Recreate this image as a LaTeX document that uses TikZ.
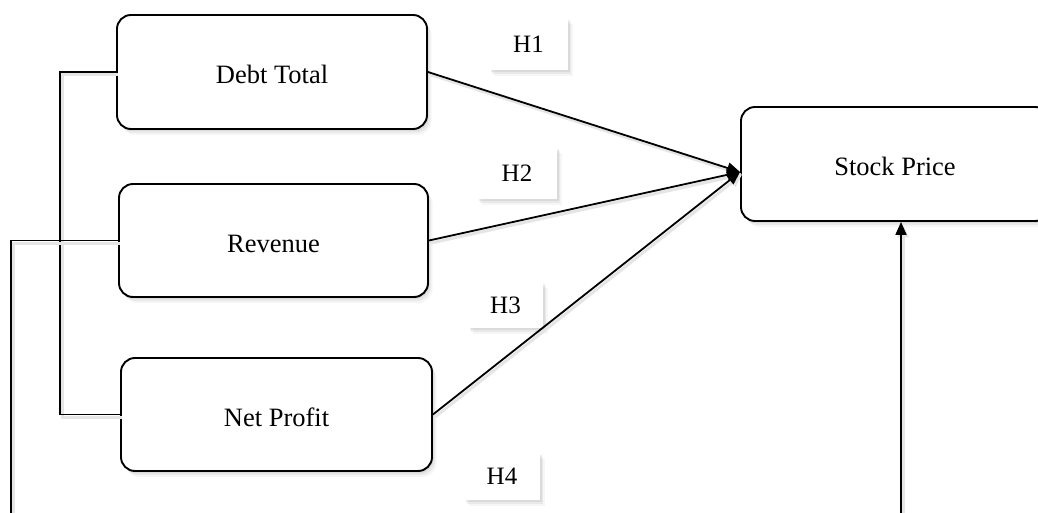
\documentclass[tikz,border=0pt]{standalone}
\usepackage{fontspec}
\setmainfont{Liberation Serif}
\usetikzlibrary{shadows,arrows.meta,calc}
\tikzset{
  softshadow/.style={
    drop shadow={opacity=0.14, shadow xshift=1.5pt, shadow yshift=-2pt},
    drop shadow={opacity=0.11, shadow xshift=3pt, shadow yshift=-4pt},
    drop shadow={opacity=0.07, shadow xshift=4.5pt, shadow yshift=-6pt}},
  box/.style={draw=black, line width=1.9pt, rounded corners=14pt, fill=white,
    inner sep=0pt, text height=23.5pt, text depth=0pt,
    font=\fontsize{26.5}{30}\selectfont, softshadow},
  hyp/.style={fill=white, inner sep=0pt, font=\fontsize{25}{30}\selectfont, softshadow},
  conn/.style={line width=1.8pt, draw=black,
    preaction={draw=black!10, line width=3pt, transform canvas={shift={(2pt,-2.5pt)}}}},
  arr/.style={conn, -{Triangle[length=13pt,width=11pt]}},
}
\begin{document}
\begin{tikzpicture}[x=1pt,y=-1pt]
\clip (0,0) rectangle (1038,513);
\fill[white] (0,0) rectangle (1038,513);

\coordinate (lx) at (60,0);
\coordinate (bl) at (11,520);
\coordinate (br) at (901,520);

\node[hyp, minimum width=79pt, minimum height=52pt] (h1) at (528.5,44) {H1};
\node[hyp, minimum width=80pt, minimum height=52pt] (h2) at (517,173) {H2};
\node[hyp, minimum width=75pt, minimum height=46pt] (h3) at (505.5,305) {H3};
\node[hyp, minimum width=76pt, minimum height=47pt] (h4) at (502,476.5) {H4};

\node[box, minimum width=310pt, minimum height=114pt] (debt) at (272,72) {Debt Total};
\node[box, minimum width=309pt, minimum height=113pt] (rev) at (273.5,240.5) {Revenue};
\node[box, minimum width=311pt, minimum height=113pt] (net) at (276.5,414.5) {Net Profit};
\node[box, minimum width=308pt, minimum height=114pt] (stock) at (895,164) {Stock Price};

\coordinate (tip) at ($(stock.west)+(0,8)$);

\draw[arr] (debt.east) -- (tip);
\draw[arr] (rev.east) -- (tip);
\draw[arr] (net.east) -- (tip);

\draw[conn] (debt.west) -- (debt.west -| lx) |- (net.west);
\draw[conn] (rev.west) -| (bl);
\draw[arr] (br) -- (br |- stock.south);
\end{tikzpicture}
\end{document}
